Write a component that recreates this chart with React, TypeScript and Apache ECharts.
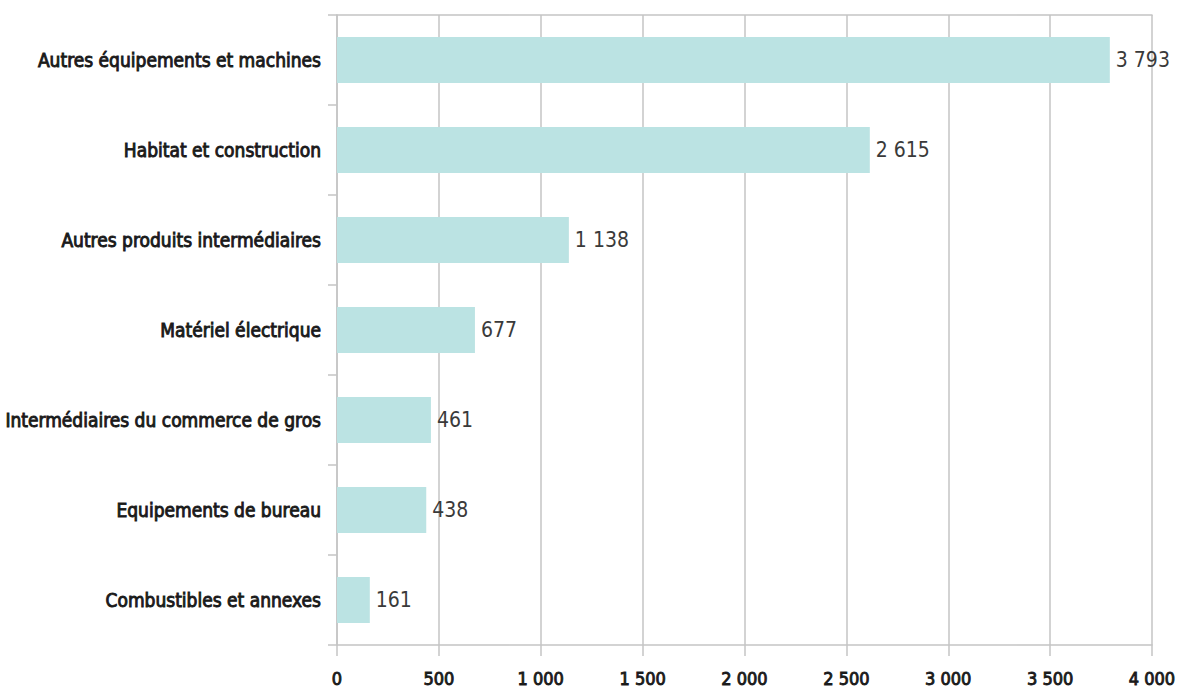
import React, { useEffect, useRef } from "react";
import * as echarts from "echarts";

const categories = [
  "Autres équipements et machines",
  "Habitat et construction",
  "Autres produits intermédiaires",
  "Matériel électrique",
  "Intermédiaires du commerce de gros",
  "Equipements de bureau",
  "Combustibles et annexes",
];
const values = [3793, 2615, 1138, 677, 461, 438, 161];

const fmt = (v: number) => {
  const s = String(Math.round(v));
  return s.replace(/\B(?=(\d{3})+(?!\d))/g, " ");
};

const FONT = "'DejaVu Sans Condensed', sans-serif";

export default function App() {
  const ref = useRef<HTMLDivElement>(null);
  useEffect(() => {
    const chart = echarts.init(ref.current!, null, { renderer: "svg" });
    chart.setOption({
      animation: false,
      backgroundColor: "#ffffff",
      grid: { left: 337, right: 31, top: 15, bottom: 44, containLabel: false, outerBoundsMode: "none" },
      xAxis: [
        {
          type: "value",
          min: 0,
          max: 4000,
          interval: 500,
          axisLine: { show: true, lineStyle: { color: "#c4c4c4", width: 1.5 } },
          axisTick: { show: true, length: 11, lineStyle: { color: "#c4c4c4", width: 1.5 } },
          splitLine: { show: true, lineStyle: { color: "#c4c4c4", width: 1.5 } },
          axisLabel: {
            formatter: (v: number) => fmt(v),
            color: "#1a1a1a",
            fontFamily: FONT,
            fontWeight: "normal",
            fontSize: 18,
            textBorderColor: "#1a1a1a",
            textBorderWidth: 0.9,
            margin: 24,
          },
        },
        {
          type: "value",
          position: "top",
          min: 0,
          max: 4000,
          interval: 500,
          axisLine: { show: true, lineStyle: { color: "#c4c4c4", width: 1.5 } },
          axisTick: { show: false },
          splitLine: { show: false },
          axisLabel: { show: false },
        },
      ],
      yAxis: {
        type: "category",
        data: categories,
        inverse: true,
        axisLine: { show: true, lineStyle: { color: "#c4c4c4", width: 1.5 } },
        axisTick: { show: true, length: 9, lineStyle: { color: "#c4c4c4", width: 1.5 } },
        axisLabel: {
          color: "#1a1a1a",
          fontFamily: FONT,
          fontWeight: "normal",
          fontSize: 19,
          textBorderColor: "#1a1a1a",
          textBorderWidth: 0.9,
          margin: 16,
        },
      },
      series: [
        {
          type: "bar",
          data: values,
          xAxisIndex: 0,
          barCategoryGap: "49%",
          itemStyle: { color: "#bbe3e3" },
          label: {
            show: true,
            position: "right",
            distance: 6,
            formatter: (p: any) => fmt(p.value),
            color: "#3a3a3a",
            fontFamily: FONT,
            fontSize: 21,
          },
        },
      ],
    });
    return () => chart.dispose();
  }, []);
  return (
    <div
      ref={ref}
      style={{ position: "absolute", left: 0, top: 0, width: 1183, height: 689 }}
    />
  );
}
